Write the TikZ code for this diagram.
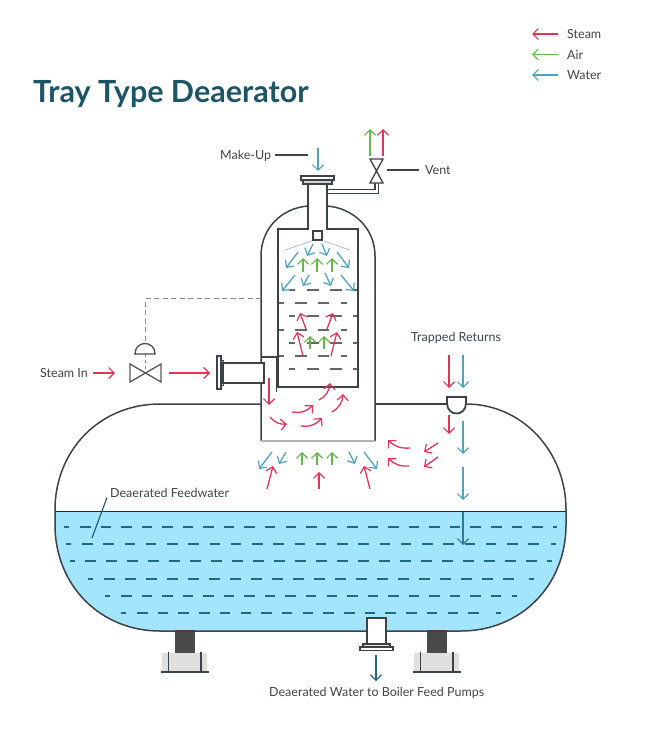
\documentclass[tikz,border=0pt]{standalone}
\usepackage{fontspec}
\setmainfont{Lato}
\usetikzlibrary{arrows.meta}
\definecolor{steamcol}{HTML}{E23458}
\definecolor{aircol}{HTML}{62BA46}
\definecolor{watercol}{HTML}{4FA3BE}
\definecolor{deepcol}{HTML}{1F6A80}
\definecolor{tankcol}{HTML}{3C4245}
\definecolor{fillcol}{HTML}{A2E5FC}
\definecolor{basecol}{HTML}{DEDFDF}
\definecolor{blockcol}{HTML}{47494B}
\definecolor{textcol}{HTML}{3F4447}
\definecolor{titlecol}{HTML}{1C5566}
\begin{document}
\begin{tikzpicture}
	[x=1pt,y=-1pt,
	every node/.style={inner sep=0pt,anchor=west,text=textcol,font=\fontsize{12.5}{14}\selectfont},
	flow/.style={line width=1.3pt,-{Straight Barb[length=5.5pt,width=11pt,line width=1.2pt]}},
	steam/.style={flow,draw=steamcol},
	air/.style={flow,draw=aircol},
	water/.style={flow,draw=watercol},
	wall/.style={draw=tankcol,line width=1.5pt},
	thinwall/.style={draw=tankcol,line width=1.1pt,fill=white},
	leader/.style={draw=textcol,line width=1.1pt},
	traydash/.style={draw=black!60,line width=1.3pt},
	pooldash/.style={draw=deepcol,line width=1.3pt}]
	\useasboundingbox (0,0) rectangle (662,730);

	\node[font=\fontsize{30.5}{34}\bfseries\selectfont,text=titlecol] (title) at (33,94) {Tray Type Deaerator};
	\node (lsteam) at (567,34.5) {Steam};
	\node (lair) at (567,55) {Air};
	\node (lwater) at (567,75.5) {Water};
	\draw[steam] (558,34) -- (532,34);
	\draw[air] (558,54.5) -- (532,54.5);
	\draw[water] (558,75) -- (532,75);

	\fill[fillcol] (55,511) -- (566,511) -- (566,525) .. controls (566,585) and (521,631) .. (461,631)
		-- (160,631) .. controls (100,631) and (55,585) .. (55,525) -- cycle;
	\foreach \y/\xa/\xb/\xc/\xd/\xe/\xf/\gap in {
			527/64/69/80/545/553/557/20.55,
			544/66/71/82/541/551/556/21.25,
			561/70/75/85/540/547/552/21,
			579/88/93/104/520/529/534/21,
			596/105/110/121/505/512/517/20.55,
			613/121/126/137/488/496/501/20.7} {
		\draw[pooldash] (\xa,\y) -- (\xb,\y);
		\draw[pooldash] (\xe,\y) -- (\xf,\y);
		\pgfmathsetmacro{\off}{\gap-10.5}
		\draw[pooldash,dash pattern=on 10.5pt off \off pt] (\xc,\y) -- (\xd,\y);
	}
	\draw[draw=black!55!teal,line width=1pt] (55,511) -- (566,511);

	\foreach \xa in {175,427} {
		\fill[blockcol] (\xa,630) rectangle ++(19.5,23);
	}
	\foreach \xa in {162,414} {
		\fill[basecol] (\xa,653) rectangle ++(45,19);
		\draw[line width=1.5pt,draw=tankcol] (\xa-1.5,672) -- ++(48,0);
		\draw[line width=1.1pt,draw=tankcol] (\xa+6.5,652) -- ++(0,20);
		\draw[line width=1.1pt,draw=tankcol] (\xa+39,652) -- ++(0,20);
	}

	\draw[wall] (261,404) -- (160,404) .. controls (100,404) and (55,450) .. (55,510)
		-- (55,525) .. controls (55,585) and (100,631) .. (160,631) -- (461,631)
		.. controls (521,631) and (566,585) .. (566,525) -- (566,510)
		.. controls (566,450) and (521,404) .. (466,404);
	\draw[wall] (376,404) -- (447,404);

	\draw[wall] (261,441) -- (261,256) .. controls (261,228) and (282,208) .. (308,206);
	\draw[wall] (327,206) .. controls (353,208) and (375,228) .. (375,256) -- (375,441);
	\draw[draw=black!30,line width=1.6pt] (261,441) -- (375,441);
	\draw[wall] (308,183) -- (308,229) -- (278,229) -- (278,387) -- (358,387) -- (358,229) -- (327,229) -- (327,183);
	\draw[wall] (262,357) -- (276.5,357) -- (276.5,392);

	\foreach \y in {290,316,343,369} {
		\foreach \xa/\xb in {289/295,307/319,330/342,353/357} {
			\draw[traydash] (\xa,\y) -- (\xb,\y);
		}
	}
	\foreach \y in {303,330,356} {
		\foreach \xa/\xb in {279/284,295/307,318/329,341/347} {
			\draw[traydash] (\xa,\y) -- (\xb,\y);
		}
	}

	\draw[thinwall,fill=black!18] (303,180) rectangle (332,184);
	\draw[thinwall] (301,176) rectangle (334,180);
	\draw[wall,line width=1.3pt] (313,231) rectangle (322,240);
	\draw[draw=watercol!60!gray!60,line width=.7pt] (285,250) -- (312,241);
	\draw[draw=watercol!60!gray!60,line width=.7pt] (350,250) -- (324,241);

	\draw[wall,line width=1.3pt] (327,189.3) -- (375,189.3) -- (375,183);
	\draw[wall,line width=1.3pt] (327,193.3) -- (378.5,193.3) -- (378.5,183);
	\coordinate (vent) at (376.5,171);
	\draw[wall,line width=1.3pt,fill=white] (370,159) -- (383,159) -- (vent) -- cycle;
	\draw[wall,line width=1.3pt,fill=white] (370,183) -- (383,183) -- (vent) -- cycle;

	\draw[thinwall,line width=1.2pt] (217,356) rectangle (221,389);
	\draw[thinwall,line width=1pt] (221,360) rectangle (223,385);
	\draw[thinwall,line width=1.3pt] (223,363) rectangle (264,383);

	\coordinate (steamvalve) at (145.5,373);
	\draw[draw=black!45,line width=1pt,dash pattern=on 5pt off 3.5pt] (261,298) -- (145.5,298) -- (145.5,343);
	\draw[draw=black!45,line width=1pt,dash pattern=on 3pt off 3pt] (145.5,354) -- (steamvalve);
	\draw[draw=black!70,line width=1.3pt,fill=white] (135,354) .. controls (135,340) and (155,340) .. (155,354) -- cycle;
	\draw[draw=black!65,line width=1.3pt] (130,364) -- (130,382) -- (steamvalve) -- (161,364) -- (161,382) -- (steamvalve) -- cycle;

	\draw[wall,line width=1.8pt,fill=white] (447,397) -- (447,403) .. controls (447,417) and (466,417) .. (466,403) -- (466,397) -- cycle;

	\draw[thinwall,line width=1.4pt] (367,618) rectangle (386,645);
	\draw[thinwall,fill=black!12] (363,644) rectangle (390,647);
	\draw[thinwall] (360,647) rectangle (393,650.5);

	\foreach \xa/\ya/\xb/\yb in {
			298/252/286/268, 313/244/307/256, 322/244/327/256, 337/252/349/268,
			295/275/282/291, 309/275/303/286, 325/273/331/286, 341/275/354/291,
			272/452/259/469, 286/452/279/464, 349/452/355/464, 364/452/377/469,
			318/148/318/171, 463/355/463/388, 463/421/463/454, 463/467/463/500} {
		\draw[water] (\xa,\ya) -- (\xb,\yb);
	}
	\foreach \xa/\ya/\xb/\yb in {
			303/272/303/258, 317/272/317/258, 332/272/332/258,
			310/349/310/336, 324/349/324/336,
			302/465/302/452, 317/465/317/452, 332/465/332/452,
			370/156/370/129} {
		\draw[air] (\xa,\ya) -- (\xb,\yb);
	}
	\foreach \xa/\ya/\xb/\yb in {
			383/156/383/129, 93/373/115/373, 169/373/210/373,
			306/329/300/313, 327/329/333/313, 303/356/297/332, 331/356/337/332,
			269/378/269/405, 267/489/273/466, 319/489/319/472, 370/489/364/466,
			438/443/424/452, 438/457/424/467, 449/355/449/388, 449/415/449/434} {
		\draw[steam] (\xa,\ya) -- (\xb,\yb);
	}
	\foreach \xa/\ya/\xb/\yb in {
			270/417/287/424, 292/412/313/405, 301/426/322/418, 319/400/330/383, 332/412/343/394} {
		\draw[steam] (\xa,\ya) to[bend right=28] (\xb,\yb);
	}
	\foreach \xa/\ya/\xb/\yb in {410/448/388/440, 409/466/388/458} {
		\draw[steam] (\xa,\ya) to[bend left=25] (\xb,\yb);
	}
	\draw[water,draw=deepcol!70!watercol] (463,512) -- (463,545);
	\draw[flow,draw=deepcol] (376,655) -- (376,681);

	\node (makeup) at (220,155.5) {Make-Up};
	\node (ventlabel) at (425,170.5) {Vent};
	\node (steamin) at (40,373.5) {Steam In};
	\node (returns) at (411,337.5) {Trapped Returns};
	\node (feedwater) at (110,492.5) {Deaerated Feedwater};
	\node (pumps) at (269,692.5) {Deaerated Water to Boiler Feed Pumps};
	\coordinate (makeupend) at (308,155);
	\coordinate (ventend) at (387,170);
	\coordinate (poolend) at (92,538);
	\draw[leader] ([xshift=4pt]makeup.east |- makeupend) -- (makeupend);
	\draw[leader] ([xshift=-6pt]ventlabel.west |- ventend) -- (ventend);
	\draw[leader,draw=titlecol] ([xshift=-3pt,yshift=-5pt]feedwater.west) -- (poolend);
\end{tikzpicture}
\end{document}
